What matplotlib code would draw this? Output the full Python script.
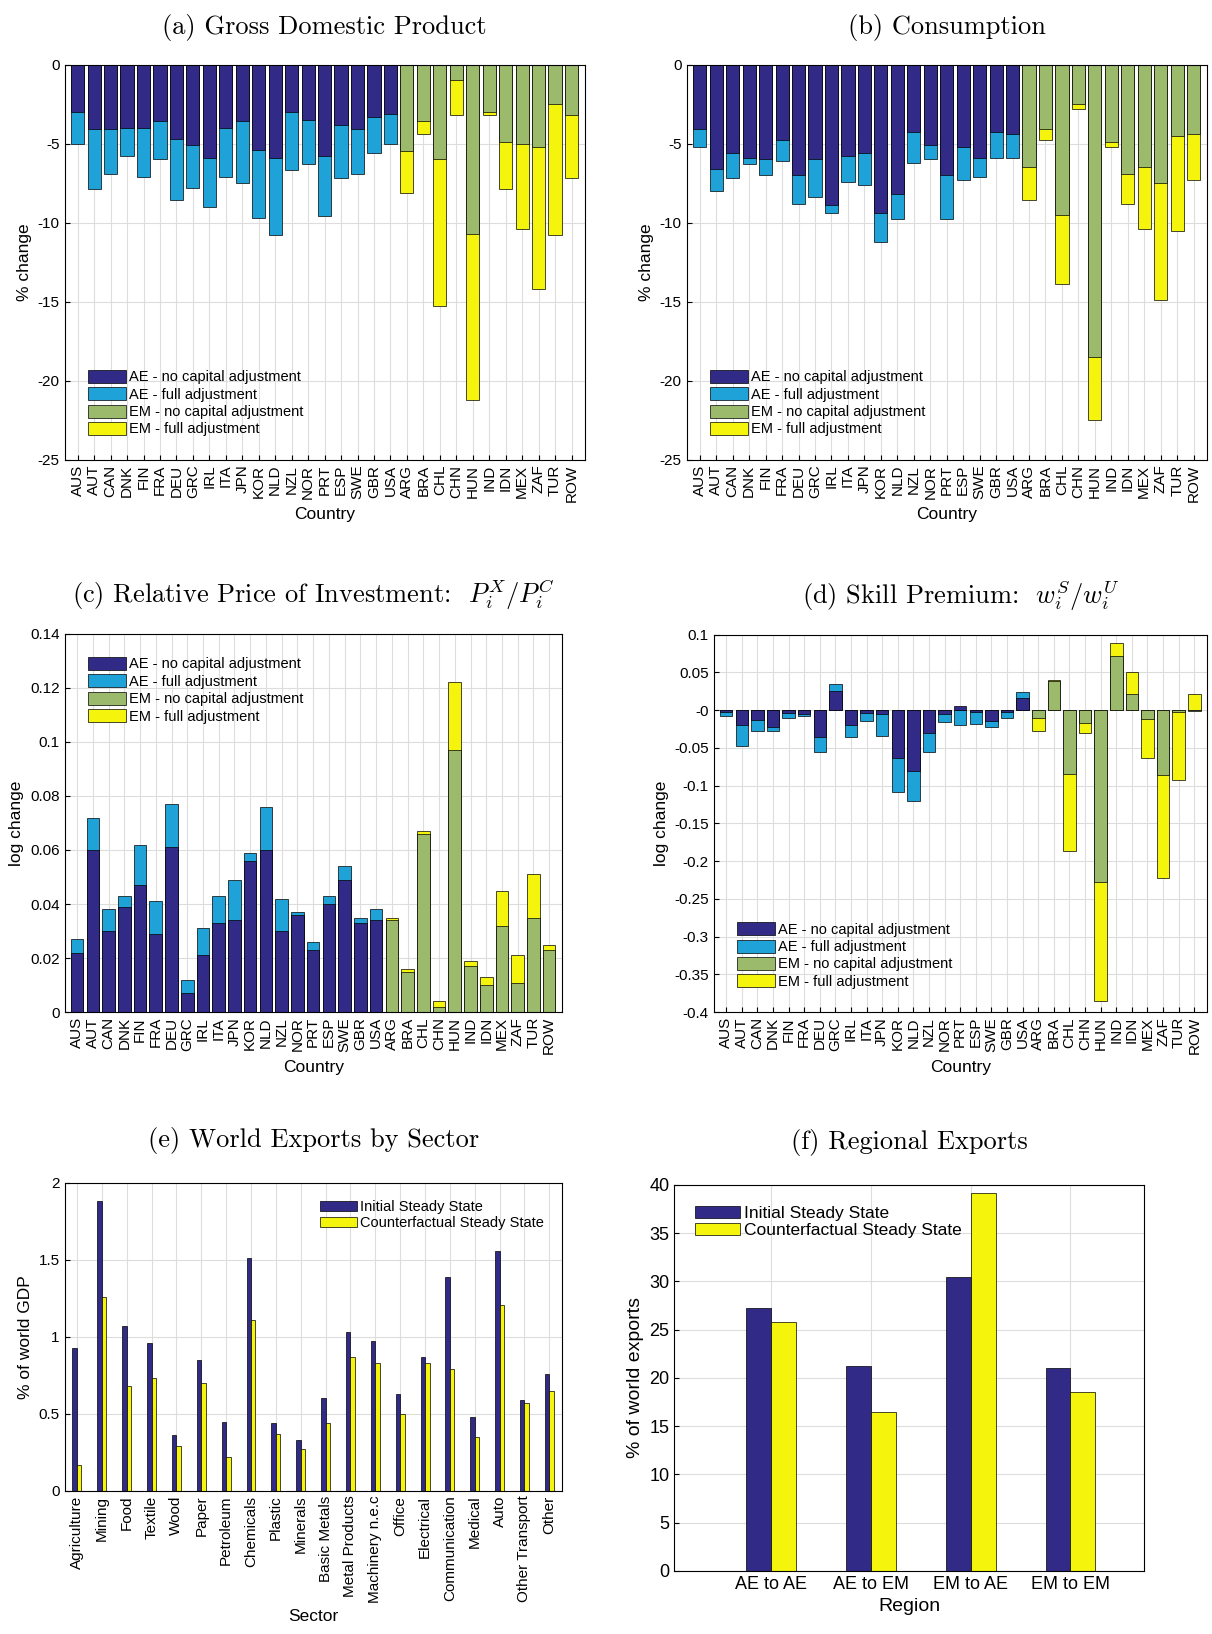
import numpy as np
import matplotlib
matplotlib.use("Agg")
import matplotlib.pyplot as plt
from matplotlib.patches import Patch

plt.rcParams['font.family'] = ['Liberation Sans', 'DejaVu Sans']
plt.rcParams['mathtext.fontset'] = 'cm'

countries = ['AUS', 'AUT', 'CAN', 'DNK', 'FIN', 'FRA', 'DEU', 'GRC', 'IRL', 'ITA', 'JPN',
             'KOR', 'NLD', 'NZL', 'NOR', 'PRT', 'ESP', 'SWE', 'GBR', 'USA',
             'ARG', 'BRA', 'CHL', 'CHN', 'HUN', 'IND', 'IDN', 'MEX', 'ZAF', 'TUR', 'ROW']
n_ae = 20

gdp_nc = [-3.0, -4.1, -4.1, -4.0, -4.0, -3.6, -4.7, -5.1, -5.9, -4.0, -3.6, -5.4, -5.9, -3.0, -3.5,
          -5.8, -3.8, -4.1, -3.3, -3.1, -5.5, -3.6, -6.0, -1.0, -10.7, -3.0, -4.9, -5.0, -5.2, -2.5, -3.2]
gdp_full = [-5.0, -7.9, -6.9, -5.8, -7.1, -6.0, -8.6, -7.8, -9.0, -7.1, -7.5, -9.7, -10.8, -6.7, -6.3,
            -9.6, -7.2, -6.9, -5.6, -5.0, -8.1, -4.4, -15.3, -3.2, -21.2, -3.2, -7.9, -10.4, -14.2, -10.8, -7.2]

cons_nc = [-4.1, -6.6, -5.6, -5.9, -6.0, -4.8, -7.0, -6.0, -8.9, -5.8, -5.6, -9.4, -8.2, -4.3, -5.1,
           -7.0, -5.2, -5.9, -4.3, -4.4, -6.5, -4.1, -9.5, -2.5, -18.5, -4.9, -6.9, -6.5, -7.5, -4.5, -4.4]
cons_full = [-5.2, -8.0, -7.2, -6.3, -7.0, -6.1, -8.8, -8.4, -9.4, -7.4, -7.6, -11.2, -9.8, -6.2, -6.0,
             -9.8, -7.3, -7.1, -5.9, -5.9, -8.6, -4.8, -13.9, -2.8, -22.5, -5.2, -8.8, -10.4, -14.9, -10.5, -7.3]

pinv_nc = [0.022, 0.060, 0.030, 0.039, 0.047, 0.029, 0.061, 0.007, 0.021, 0.033, 0.034, 0.056, 0.060,
           0.030, 0.036, 0.023, 0.040, 0.049, 0.033, 0.034, 0.034, 0.015, 0.066, 0.002, 0.097, 0.017,
           0.010, 0.032, 0.011, 0.035, 0.023]
pinv_full = [0.027, 0.072, 0.038, 0.043, 0.062, 0.041, 0.077, 0.012, 0.031, 0.043, 0.049, 0.059, 0.076,
             0.042, 0.037, 0.026, 0.043, 0.054, 0.035, 0.038, 0.035, 0.016, 0.067, 0.004, 0.122, 0.019,
             0.013, 0.045, 0.021, 0.051, 0.025]

skill_nc = [-0.003, -0.020, -0.013, -0.022, -0.004, -0.005, -0.035, 0.025, -0.020, -0.004, -0.005,
            -0.063, -0.080, -0.030, -0.005, 0.005, -0.003, -0.015, -0.003, 0.016, -0.010, 0.038,
            -0.084, -0.017, -0.228, 0.072, 0.022, -0.012, -0.086, -0.003, -0.001]
skill_full = [-0.008, -0.048, -0.027, -0.027, -0.010, -0.008, -0.055, 0.035, -0.035, -0.014, -0.034,
              -0.108, -0.120, -0.055, -0.016, -0.020, -0.018, -0.022, -0.010, 0.024, -0.028, 0.040,
              -0.186, -0.030, -0.385, 0.089, 0.050, -0.063, -0.222, -0.092, 0.022]

sectors = ['Agriculture', 'Mining', 'Food', 'Textile', 'Wood', 'Paper', 'Petroleum', 'Chemicals',
           'Plastic', 'Minerals', 'Basic Metals', 'Metal Products', 'Machinery n.e.c', 'Office',
           'Electrical', 'Communication', 'Medical', 'Auto', 'Other Transport', 'Other']
sec_init = [0.93, 1.88, 1.07, 0.96, 0.36, 0.85, 0.45, 1.51, 0.44, 0.33, 0.60, 1.03, 0.97, 0.63,
            0.87, 1.39, 0.48, 1.56, 0.59, 0.76]
sec_cf = [0.17, 1.26, 0.68, 0.73, 0.29, 0.70, 0.22, 1.11, 0.37, 0.27, 0.44, 0.87, 0.83, 0.50,
          0.83, 0.79, 0.35, 1.21, 0.57, 0.65]

regions = ['AE to AE', 'AE to EM', 'EM to AE', 'EM to EM']
reg_init = [27.2, 21.2, 30.5, 21.0]
reg_cf = [25.8, 16.5, 39.2, 18.5]

DARK = '#312b87'
LIGHT = '#1ea2d8'
GREEN = '#9bba6c'
YELLOW = '#f4f40c'

W, H = 1212, 1634
S = 1212 / 1165  # my pixel reads were on a 1165-wide view
fig = plt.figure(figsize=(W / 100, H / 100), dpi=100)
TITLE = dict(fontsize=19, fontfamily=['cmr10', 'DejaVu Serif'])


def add_ax(x0, y0, x1, y1):
    x0, y0, x1, y1 = [v * S for v in (x0, y0, x1, y1)]
    return fig.add_axes([x0 / W, 1 - y1 / H, (x1 - x0) / W, (y1 - y0) / H])


def style(ax, size=11):
    ax.grid(True, color='#dddddd', linewidth=0.8)
    ax.set_axisbelow(True)
    ax.tick_params(labelsize=size, direction='in')


def country_panel(ax, nc, full, title, ylabel, ylim, yticks, loc):
    x = np.arange(len(countries))
    for i in range(len(countries)):
        c_nc, c_full = (DARK, LIGHT) if i < n_ae else (GREEN, YELLOW)
        pairs = [(full[i], c_full), (nc[i], c_nc)]
        if abs(nc[i]) > abs(full[i]):
            pairs = pairs[::-1]
        for v, c in pairs:
            ax.bar(x[i], v, width=0.8, color=c, edgecolor='black', linewidth=0.5)
    ax.set_xticks(x)
    ax.set_xticklabels(countries, rotation=90, fontsize=11.5)
    ax.set_xlim(-0.8, len(countries) - 0.2)
    ax.set_ylim(*ylim)
    ax.set_yticks(yticks)
    ax.set_yticklabels(['%g' % round(v, 2) for v in yticks])
    ax.set_xlabel('Country', fontsize=12.5)
    ax.set_ylabel(ylabel, fontsize=12.5)
    ax.set_title(title, pad=22, **TITLE)
    style(ax)
    handles = [Patch(facecolor=DARK, edgecolor='black', lw=0.5),
               Patch(facecolor=LIGHT, edgecolor='black', lw=0.5),
               Patch(facecolor=GREEN, edgecolor='black', lw=0.5),
               Patch(facecolor=YELLOW, edgecolor='black', lw=0.5)]
    labels = ['AE - no capital adjustment', 'AE - full adjustment',
              'EM - no capital adjustment', 'EM - full adjustment']
    ax.legend(handles, labels, loc=loc, fontsize=10.5, frameon=False,
              handlelength=2.6, handleheight=1.0, labelspacing=0.2,
              handletextpad=0.2, borderaxespad=1.2)


ax = add_ax(62, 62, 562, 442)
country_panel(ax, gdp_nc, gdp_full, '(a) Gross Domestic Product', '% change',
              (-25, 0), np.arange(-25, 1, 5), 'lower left')
ax = add_ax(660, 62, 1160, 442)
country_panel(ax, cons_nc, cons_full, '(b) Consumption', '% change',
              (-25, 0), np.arange(-25, 1, 5), 'lower left')
ax = add_ax(62, 609, 540, 973)
country_panel(ax, pinv_nc, pinv_full,
              r'(c) Relative Price of Investment:  $P_i^X/P_i^C$', 'log change',
              (0, 0.14), np.arange(0, 0.141, 0.02), 'upper left')
ax = add_ax(686, 610, 1160, 973)
country_panel(ax, skill_nc, skill_full, r'(d) Skill Premium:  $w_i^S/w_i^U$', 'log change',
              (-0.4, 0.1), np.arange(-0.4, 0.101, 0.05), 'lower left')

# (e) sectors
ax = add_ax(62, 1137, 540, 1433)
x = np.arange(len(sectors)) + 1
bw = 0.18
ax.bar(x - bw / 2, sec_init, width=bw, color=DARK, edgecolor='black', linewidth=0.5,
       label='Initial Steady State')
ax.bar(x + bw / 2, sec_cf, width=bw, color=YELLOW, edgecolor='black', linewidth=0.5,
       label='Counterfactual Steady State')
ax.set_xticks(x)
ax.set_xticklabels(sectors, rotation=90, fontsize=11.5)
ax.set_xlim(0.5, len(sectors) + 0.5)
ax.set_ylim(0, 2)
ax.set_yticks([0, 0.5, 1, 1.5, 2])
ax.set_yticklabels(['0', '0.5', '1', '1.5', '2'])
ax.set_xlabel('Sector', fontsize=12.5)
ax.set_ylabel('% of world GDP', fontsize=12.5)
ax.set_title('(e) World Exports by Sector', pad=26, **TITLE)
style(ax)
ax.legend(loc='upper right', fontsize=10.5, frameon=False, handlelength=2.6,
          labelspacing=0.1, handletextpad=0.2, borderaxespad=0.8)

# (f) regions
ax = add_ax(648, 1139, 1100, 1510)
x = np.arange(len(regions)) + 1
bw = 0.25
ax.bar(x - bw / 2, reg_init, width=bw, color=DARK, edgecolor='black', linewidth=0.5,
       label='Initial Steady State')
ax.bar(x + bw / 2, reg_cf, width=bw, color=YELLOW, edgecolor='black', linewidth=0.5,
       label='Counterfactual Steady State')
ax.set_xticks(x)
ax.set_xticklabels(regions)
ax.set_xlim(0.03, 4.74)
ax.set_ylim(0, 40)
ax.set_yticks(np.arange(0, 41, 5))
ax.set_xlabel('Region', fontsize=14)
ax.set_ylabel('% of world exports', fontsize=14)
ax.set_title('(f) Regional Exports', pad=26, **TITLE)
style(ax, size=13)
ax.legend(loc='upper left', fontsize=12.5, frameon=False, handlelength=2.6,
          labelspacing=0.1, handletextpad=0.2, borderaxespad=0.8)

fig.savefig('out.png', dpi=100)
